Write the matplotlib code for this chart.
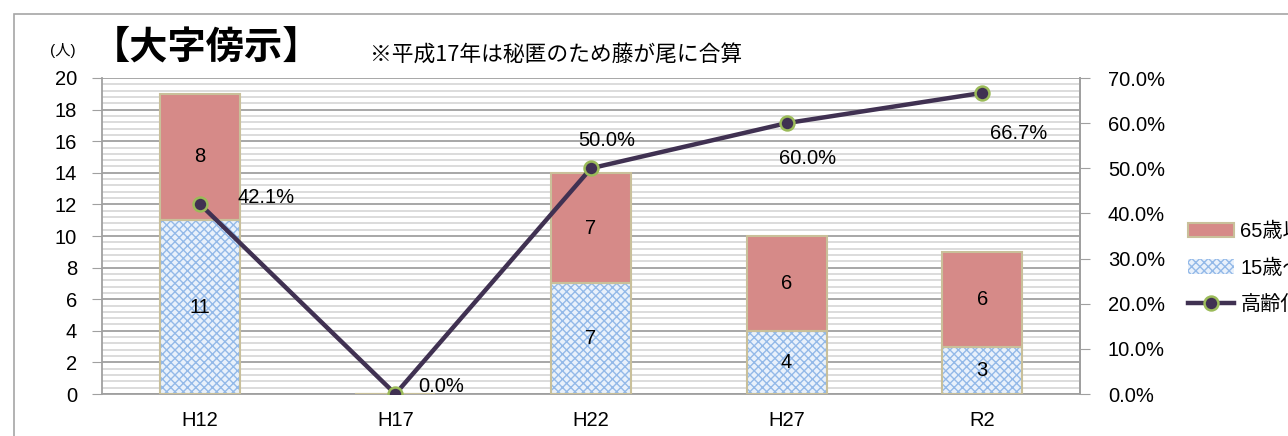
import matplotlib
matplotlib.use("Agg")
import matplotlib.pyplot as plt
import numpy as np
from matplotlib.patches import Rectangle, Patch
from matplotlib.lines import Line2D
from matplotlib.ticker import MultipleLocator, FuncFormatter

plt.rcParams['font.family'] = ['Liberation Sans', 'Noto Sans CJK JP', 'DejaVu Sans']
plt.rcParams['hatch.linewidth'] = 1.0

categories = ['H12', 'H17', 'H22', 'H27', 'R2']
working_age = [11, 0, 7, 4, 3]       # 15歳～64歳
elderly = [8, 0, 7, 6, 6]            # 65歳以上
aging_rate = [42.1, 0.0, 50.0, 60.0, 66.7]  # 高齢化率 (%)
rate_labels = ['42.1%', '0.0%', '50.0%', '60.0%', '66.7%']
label_offsets_px = [(66, 6), (46, 8), (16, 28), (21, -35), (36, -41)]

W, H = 1288, 436
fig = plt.figure(figsize=(W / 100, H / 100), dpi=100)

# figure border
fig.patches.append(Rectangle((14 / W, -0.2), 2, 1 - 14 / H + 0.2, transform=fig.transFigure,
                             fill=False, edgecolor='#a6a6a6', linewidth=1.2))

ax = fig.add_axes([102 / W, (H - 394) / H, (1080 - 102) / W, (394 - 78) / H])
ax2 = ax.twinx()
ax.set_zorder(1)
ax2.set_zorder(2)
ax.patch.set_visible(False)
ax2.patch.set_visible(False)

x = np.arange(len(categories))
bw = 0.41
blue_face = '#e9f1fb'
blue_hatch = '#93b9e8'
pink = '#d68a88'
tan = '#c9c09a'

# working-age bars (hatched)
ax.bar(x, working_age, bw, color=blue_face, edgecolor=blue_hatch, hatch='xxxx', linewidth=0, zorder=3)
ax.bar(x, working_age, bw, fill=False, edgecolor=tan, linewidth=1.5, zorder=4)
ax.bar(x, elderly, bw, bottom=working_age, color=pink, edgecolor=tan, linewidth=1.5, zorder=3)

for xi, w, e in zip(x, working_age, elderly):
    if w > 0:
        ax.text(xi, w / 2, str(w), ha='center', va='center', fontsize=14.5, zorder=6)
    if e > 0:
        ax.text(xi, w + e / 2, str(e), ha='center', va='center', fontsize=14.5, zorder=6)

ax.set_xlim(-0.5, len(categories) - 0.5)
ax.set_ylim(0, 20)
ax.yaxis.set_major_locator(MultipleLocator(2))
ax.yaxis.set_minor_locator(MultipleLocator(0.4))
ax.grid(which='major', axis='y', color='#a0a0a0', linewidth=1.3, zorder=0)
ax.grid(which='minor', axis='y', color='#d9d9d9', linewidth=1.3, zorder=0)
ax.set_axisbelow(True)
ax.set_xticks(x)
ax.set_xticklabels(categories, fontsize=14.5)
ax.tick_params(axis='x', length=0, pad=12)
ax.tick_params(axis='y', which='major', length=7, color='#a0a0a0', labelsize=14.5, pad=11)
ax.tick_params(axis='y', which='minor', length=0)
for s in ['top']:
    ax.spines[s].set_visible(False)
for s in ['left', 'bottom', 'right']:
    ax.spines[s].set_color('#a0a0a0')
    ax.spines[s].set_linewidth(1.3)

line_color = '#403152'
ax2.plot(x, aging_rate, color=line_color, linewidth=3.2, marker='o', markersize=10,
         markerfacecolor=line_color, markeredgecolor='#9bbb59', markeredgewidth=1.8, zorder=5)
ax2.set_ylim(0, 70)
ax2.yaxis.set_major_locator(MultipleLocator(10))
ax2.yaxis.set_major_formatter(FuncFormatter(lambda v, p: f'{v:.1f}%'))
ax2.tick_params(axis='y', length=7, color='#a0a0a0', labelsize=14.5, pad=13)
for s in ['top', 'left', 'bottom']:
    ax2.spines[s].set_visible(False)
ax2.spines['right'].set_color('#a0a0a0')
ax2.spines['right'].set_linewidth(1.3)

for xi, r, lab, (dx, dy) in zip(x, aging_rate, rate_labels, label_offsets_px):
    ax2.annotate(lab, (xi, r), xytext=(dx * 0.72, dy * 0.72), textcoords='offset points',
                 ha='center', va='center', fontsize=14.5, zorder=7)

# texts
fig.text(50 / W, 1 - 50 / H, '(人)', fontsize=11, ha='left', va='center')
fig.text(92 / W, 1 - 47 / H, '【大字傍示】', fontsize=27.5, fontweight='bold', ha='left', va='center',
         family=['Noto Sans CJK JP'])
fig.text(370 / W, 1 - 56 / H, '※平成17年は秘匿のため藤が尾に合算', fontsize=15.7, ha='left', va='center',
         family=['Noto Sans CJK JP', 'DejaVu Sans'])

handles = [
    Patch(facecolor=pink, edgecolor=tan, linewidth=1.5),
    Patch(facecolor=blue_face, edgecolor=blue_hatch, hatch='xxxx', linewidth=0),
    Line2D([0], [0], color=line_color, linewidth=3.2, marker='o', markersize=10,
           markerfacecolor=line_color, markeredgecolor='#9bbb59', markeredgewidth=1.8),
]
labels = ['65歳以上', '15歳～64歳', '高齢化率']
leg = fig.legend(handles, labels, loc='upper left', bbox_to_anchor=(1188 / W, 1 - 222 / H),
                 frameon=False, handlelength=2.3, handleheight=0.7,
                 handletextpad=0.3, labelspacing=0.85, borderaxespad=0, borderpad=0,
                 prop={'family': ['Liberation Sans', 'Noto Sans CJK JP'], 'size': 14.5})

fig.savefig('out.png', dpi=100)
